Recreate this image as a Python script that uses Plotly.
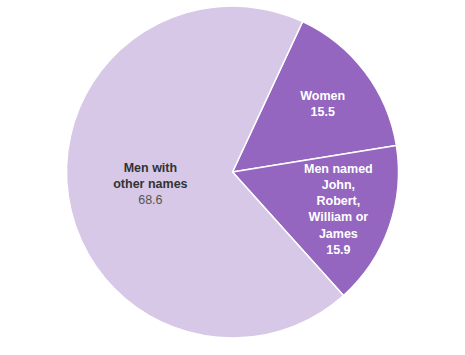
import plotly.graph_objects as go

labels = ["Women", "Men named John, Robert, William or James", "Men with other names"]
display_names = ["Women", "Men named<br>John,<br>Robert,<br>William or<br>James", "Men with<br>other names"]
values = [15.5, 15.9, 68.6]
colors = ["#9466bf", "#9466bf", "#d6c8e6"]

texts = [
    f"<b>{display_names[0]}<br>{values[0]}</b>",
    f"<b>{display_names[1]}<br>{values[1]}</b>",
    f"<b>{display_names[2]}</b><br><span style='color:#555555'>{values[2]}</span>",
]

fig = go.Figure(go.Pie(
    labels=labels,
    values=values,
    text=texts,
    textinfo="text",
    textposition="inside",
    insidetextorientation="horizontal",
    sort=False,
    direction="clockwise",
    rotation=25,
    marker=dict(colors=colors, line=dict(color="white", width=1.5)),
    insidetextfont=dict(color=["white", "white", "#333333"], size=12.5, family="Liberation Sans, Arial"),
    hoverinfo="label+value",
    showlegend=False,
))

fig.update_layout(
    width=465, height=355,
    margin=dict(l=0, r=0, t=6, b=17),
    paper_bgcolor="white",
    plot_bgcolor="white",
    uniformtext=dict(minsize=12, mode="show"),
)

fig.write_html("out.html")
